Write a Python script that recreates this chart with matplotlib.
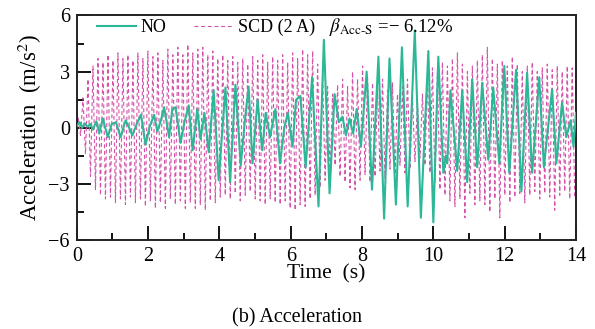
import numpy as np
import matplotlib
matplotlib.use("Agg")
import matplotlib.pyplot as plt

plt.rcParams['font.family'] = ['Liberation Serif', 'DejaVu Serif']
plt.rcParams['mathtext.fontset'] = 'stix'

# SCD (2 A): one peak and one trough per 0.14 s cycle
scd_cycle = 0.14
scd_peaks = [0.6, 1.6, 2.6, 3.3, 3.7, 3.5, 3.9, 3.6, 4.0, 3.7,
             3.9, 3.6, 4.0, 3.7, 4.1, 3.8, 4.0, 3.6, 4.2, 3.9,
             4.3, 3.9, 4.45, 4.0, 4.2, 4.3, 3.9, 4.1, 3.7, 3.9,
             3.6, 3.8, 3.5, 3.7, 3.4, 3.8, 3.6, 3.9, 3.5, 3.8,
             3.6, 3.9, 3.5, 4.0, 3.7, 4.2, 3.9, 4.1, 3.4, 2.8,
             2.2, 1.8, 2.3, 2.6, 2.2, 3.0, 2.6, 3.3, 2.7, 2.4,
             2.1, 2.6, 2.0, 2.4, 1.8, 2.2, 2.6, 1.6, 1.4, 1.8,
             2.6, 3.2, 3.0, 3.5, 3.3, 3.7, 4.0, 3.4, 3.0, 3.3,
             3.6, 3.9, 4.3, 3.7, 3.4, 3.6, 3.3, 3.8, 3.4, 3.0,
             3.3, 3.5, 3.0, 3.2, 3.4, 3.1, 3.3, 3.0, 3.3, 3.2]
scd_troughs = [-0.4, -1.4, -2.6, -3.3, -3.6, -3.8, -3.7, -4.0, -3.8, -4.1,
               -3.7, -4.0, -3.8, -4.2, -3.9, -4.3, -4.0, -4.3, -3.8, -4.1,
               -3.9, -4.3, -4.0, -4.3, -4.1, -4.4, -3.9, -4.0, -3.7, -3.6,
               -3.8, -3.5, -3.9, -3.6, -3.4, -3.8, -3.9, -4.1, -3.8, -4.0,
               -4.1, -3.9, -4.3, -4.4, -4.1, -4.2, -3.8, -3.6, -3.2, -2.8,
               -2.4, -2.0, -2.6, -2.9, -3.2, -3.3, -2.8, -2.5, -2.9, -2.6,
               -2.3, -2.7, -2.2, -2.5, -2.0, -2.4, -2.2, -1.8, -1.6, -2.0,
               -2.4, -2.9, -3.3, -3.6, -3.9, -4.2, -3.8, -4.8, -3.5, -4.1,
               -3.9, -4.1, -4.5, -3.8, -4.8, -3.6, -4.0, -3.7, -3.5, -4.0,
               -3.6, -3.4, -3.8, -3.5, -3.7, -4.4, -3.6, -3.4, -3.8, -3.7]
cyc = np.arange(len(scd_peaks)) * scd_cycle
scd_t = np.column_stack([cyc + 0.035, cyc + 0.105]).ravel()
scd_vals = np.column_stack([scd_peaks, scd_troughs]).ravel()
scd_t = np.concatenate([[0.0], scd_t])
scd_vals = np.concatenate([[0.0], scd_vals])

# NO: turning points (time, value)
no_t = [0.00, 0.08, 0.15, 0.22, 0.30, 0.38, 0.45, 0.55, 0.63, 0.73,
        0.87, 0.98, 1.10, 1.23, 1.37, 1.47, 1.56, 1.68, 1.80, 1.93,
        2.05, 2.17, 2.26, 2.36, 2.45, 2.59, 2.68, 2.77, 2.91, 3.02,
        3.14, 3.25, 3.38, 3.47, 3.58, 3.70, 3.84, 3.98, 4.17, 4.30,
        4.45, 4.60, 4.72, 4.82, 4.93, 5.07, 5.20, 5.30, 5.42, 5.57,
        5.70, 5.82, 5.92, 6.05, 6.15, 6.27, 6.42, 6.60, 6.78, 6.93,
        7.09, 7.23, 7.35, 7.45, 7.55, 7.65, 7.75, 7.85, 7.97, 8.13,
        8.28, 8.46, 8.62, 8.77, 8.95, 9.12, 9.28, 9.48, 9.65, 9.86,
        10.00, 10.14, 10.28, 10.35, 10.39, 10.48, 10.67, 10.81, 10.95, 11.09,
        11.23, 11.37, 11.54, 11.68, 11.85, 11.99, 12.13, 12.32, 12.47, 12.63,
        12.77, 12.97, 13.10, 13.33, 13.45, 13.61, 13.73, 13.85, 13.93, 14.00]
no_vals = [0.1, 0.3, 0.0, 0.25, 0.05, 0.2, -0.1, 0.35, -0.3, 0.5,
           -0.5, 0.2, 0.3, -0.5, 0.4, 0.0, -0.4, 0.2, 0.7, -0.9,
           0.1, 0.7, -0.2, 0.4, 1.1, -0.5, 1.0, 1.1, -0.8, 0.3,
           1.2, -1.2, 1.0, -0.6, 0.8, -1.3, 2.0, -2.8, 2.15, -2.9,
           2.3, -2.0, 0.5, 2.2, -1.9, 1.5, -1.2, 0.8, -0.5, 1.0,
           -1.9, 0.0, 0.8, -1.0, 1.5, 1.7, -2.1, 2.7, -4.2, 4.7,
           -3.5, 1.8, 0.3, 0.6, -0.4, 0.5, -0.3, 1.0, -1.0, 3.0,
           -3.3, 3.8, -4.85, 3.7, -4.1, 4.3, -4.2, 5.2, -4.8, 4.1,
           -5.05, 3.8, -2.4, -1.5, -1.9, 2.0, -2.3, 2.0, -2.9, 2.6,
           -2.1, 2.4, -1.7, 2.15, -1.9, 3.3, -2.4, 3.1, -3.4, 2.95,
           -2.4, 2.7, -2.1, 2.05, -1.9, 1.35, -0.5, 0.4, -1.0, 0.8]

xticks = [0, 2, 4, 6, 8, 10, 12, 14]
yticks = [-6, -3, 0, 3, 6]
ytick_labels = ['\u22126', '\u22123', '0', '3', '6']

teal = '#2cb797'
pink = '#d452a9'

fig = plt.figure(figsize=(5.95, 3.29), dpi=100)
ax = fig.add_axes([0.129, 0.270, 0.839, 0.683])

ax.plot(scd_t, scd_vals, color=pink, lw=0.8, ls=(0, (3.5, 2.5)), label='SCD (2 A)', zorder=2)
ax.plot(no_t, no_vals, color=teal, lw=1.5, label='NO', zorder=3)

ax.set_xlim(0, 14)
ax.set_ylim(-6, 6)
ax.set_xticks(xticks)
ax.set_yticks(yticks)
ax.set_xticks([1, 3, 5, 7, 9, 11, 13], minor=True)
ax.set_yticks([-4.5, -1.5, 1.5, 4.5], minor=True)
ax.set_yticklabels(ytick_labels)
ax.tick_params(which='major', direction='in', length=10, width=1.3, labelsize=14.5, pad=5)
ax.tick_params(which='minor', direction='in', length=5, width=1.3)
for s in ax.spines.values():
    s.set_linewidth(1.4)
    s.set_color('#222222')

ax.set_xlabel('Time  (s)', fontsize=15.5, labelpad=-1)
ax.set_ylabel('Acceleration  (m/s$^2$)', fontsize=16.5, labelpad=3)

h, l = ax.get_legend_handles_labels()
ax.legend([h[1], h[0]], [l[1], l[0]], loc='upper left', bbox_to_anchor=(0.04, 0.985),
          ncol=2, frameon=False, fontsize=13, handlelength=2.2, handletextpad=0.25,
          columnspacing=1.5, borderpad=0, borderaxespad=0)
ax.text(0.506, 0.95, r'$\beta_{\mathrm{Acc}\text{-}\mathrm{S}}$' + ' =\u2212 6.12%',
        transform=ax.transAxes, fontsize=13.5, va='center', ha='left')

fig.text(0.5, 0.033, '(b) Acceleration', ha='center', va='center', fontsize=14.5)

fig.savefig('out.png', dpi=100)
